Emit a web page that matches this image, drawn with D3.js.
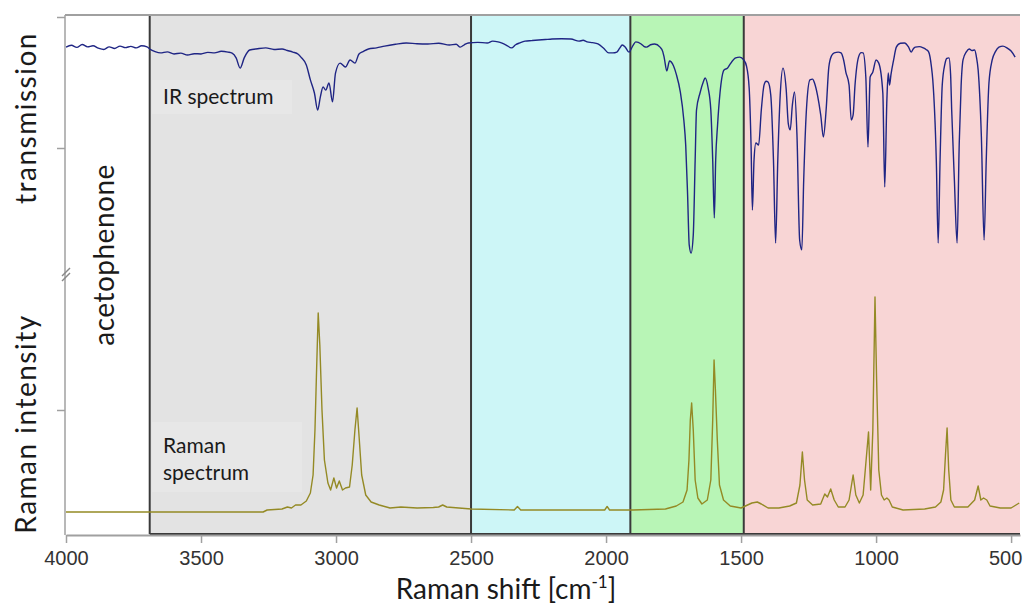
<!DOCTYPE html>
<html>
<head>
<meta charset="utf-8">
<script src="https://cdn.jsdelivr.net/npm/d3@7"></script>
<style>
  html, body { margin: 0; padding: 0; background: #fff; }
  svg { display: block; }
</style>
</head>
<body>
<svg id="chart" width="1026" height="605"></svg>
<script>
// Acetophenone: IR transmission (top) and Raman intensity (bottom) vs Raman shift.

// x-axis tick labels (cm-1)
const xTicks = [4000, 3500, 3000, 2500, 2000, 1500, 1000, 500];

// Spectral windows
const bandStarts = [3690, 2500, 1910, 1490];
const bandEnds   = [2500, 1910, 1490, 467];
const bandFills  = ["#e3e3e3", "#cdf6f7", "#b8f5b6", "#f8d5d5"];

// IR spectrum: [wavenumber (cm-1), transmission (%)]
const irSpectrum = [
  [4000,88.5],[3980,89.2],[3960,88.4],[3940,89.5],[3920,88.6],[3900,89.0],[3880,88.1],[3860,87.6],
  [3840,88.6],[3820,88.0],[3800,88.9],[3780,88.3],[3760,88.8],[3740,88.2],[3720,89.0],[3700,88.6],
  [3690,87.8],[3670,86.8],[3650,86.3],[3625,86.7],[3600,85.9],[3575,86.2],[3550,85.5],[3525,86.0],
  [3500,85.9],[3475,86.5],[3450,86.3],[3425,86.9],[3400,86.6],[3385,86.2],[3370,84.4],[3355,80.5],
  [3340,84.4],[3320,87.4],[3290,87.9],[3260,88.2],[3230,87.6],[3200,87.8],[3180,87.2],[3160,86.6],
  [3140,85.8],[3130,84.7],[3110,81.7],[3095,76.0],[3080,71.0],[3068,64.5],[3058,69.5],[3048,73.3],
  [3038,72.1],[3026,74.8],[3013,67.6],[3002,78.6],[2985,82.4],[2965,80.9],[2948,83.6],[2930,82.4],
  [2915,85.9],[2900,86.8],[2880,87.8],[2850,88.2],[2820,88.9],[2780,89.6],[2740,90.1],[2700,89.8],
  [2660,89.7],[2620,90.0],[2580,89.3],[2555,89.6],[2540,88.5],[2525,89.4],[2510,90.1],[2475,90.3],
  [2440,90.1],[2420,90.8],[2400,90.5],[2385,90.0],[2370,89.3],[2350,88.2],[2335,89.4],[2320,90.1],
  [2300,90.8],[2275,91.0],[2250,91.2],[2225,91.4],[2200,91.6],[2165,91.7],[2130,91.6],[2100,90.8],
  [2085,91.1],[2070,90.5],[2050,90.2],[2030,89.7],[2010,88.2],[1990,86.3],[1975,86.3],[1960,86.6],
  [1950,88.0],[1940,89.3],[1928,88.4],[1915,86.6],[1900,89.2],[1890,90.5],[1870,89.7],[1860,88.8],
  [1850,88.5],[1835,89.4],[1820,89.7],[1800,88.5],[1790,86.8],[1785,84.7],[1775,79.4],[1765,83.2],
  [1750,81.3],[1740,78.2],[1725,71.4],[1712,60.7],[1705,51.1],[1698,32.1],[1692,13.0],[1685,9.9],
  [1677,16.8],[1670,45.4],[1665,64.5],[1652,71.0],[1640,75.2],[1633,76.7],[1622,72.9],[1612,64.5],
  [1605,45.4],[1599,23.3],[1594,45.4],[1587,58.8],[1578,71.0],[1563,79.8],[1550,80.5],[1540,82.1],
  [1520,84.4],[1505,84.7],[1490,83.6],[1480,81.3],[1470,72.9],[1463,51.1],[1458,26.3],[1452,45.4],
  [1445,51.9],[1435,51.1],[1425,64.5],[1415,74.0],[1407,75.5],[1400,75.2],[1390,70.2],[1380,45.4],
  [1372,13.7],[1364,45.4],[1355,70.2],[1345,80.5],[1333,72.5],[1325,59.2],[1318,56.9],[1310,66.4],
  [1302,71.4],[1293,55.0],[1283,14.9],[1275,11.1],[1268,37.8],[1258,64.5],[1245,76.0],[1235,76.3],
  [1228,74.8],[1217,70.2],[1205,62.6],[1195,54.2],[1185,64.5],[1175,80.9],[1165,85.2],[1155,86.3],
  [1140,86.6],[1130,86.3],[1120,83.5],[1112,79.0],[1100,74.0],[1092,60.7],[1085,62.6],[1078,74.0],
  [1065,84.7],[1055,86.4],[1048,86.3],[1038,77.1],[1030,50.4],[1022,77.1],[1012,79.0],[1000,83.6],
  [990,82.4],[975,71.0],[968,35.1],[960,68.3],[955,78.6],[950,74.0],[945,77.9],[935,83.6],
  [925,88.5],[910,90.0],[895,90.1],[880,88.6],[870,86.6],[862,87.9],[855,88.5],[840,88.7],
  [825,88.2],[815,87.6],[805,86.6],[795,81.0],[790,76.0],[777,45.4],[770,13.7],[763,45.4],
  [755,74.0],[745,82.1],[738,84.2],[730,84.4],[724,78.0],[720,64.5],[710,37.8],[700,13.7],
  [692,51.9],[685,74.0],[678,83.6],[665,86.8],[655,87.8],[645,87.2],[635,87.4],[628,84.5],
  [622,79.8],[610,54.2],[600,14.9],[592,45.4],[582,74.8],[570,83.6],[558,86.8],[545,88.5],
  [530,88.9],[515,88.2],[500,87.0],[485,84.7]
];

// Raman spectrum: [Raman shift (cm-1), intensity (a.u.)]
const ramanSpectrum = [
  [4000,9.2],[3600,9.2],[3270,9.2],[3255,10.0],[3200,10.4],[3180,11.2],[3165,10.8],[3150,12.0],
  [3130,12.0],[3110,13.6],[3095,16.8],[3085,24.0],[3078,42.0],[3072,66.0],[3066,88.8],[3060,76.0],
  [3052,50.0],[3043,30.0],[3030,20.8],[3020,18.0],[3008,22.8],[2998,18.8],[2988,21.6],[2976,18.0],
  [2965,18.8],[2950,19.2],[2940,28.0],[2930,42.0],[2922,50.8],[2915,40.0],[2905,24.0],[2890,16.0],
  [2870,13.2],[2840,12.0],[2800,10.8],[2760,11.2],[2700,10.8],[2640,11.0],[2620,11.2],[2605,12.0],
  [2590,11.2],[2500,10.4],[2340,10.0],[2328,11.4],[2316,10.0],[2100,10.0],[2005,10.0],[1996,11.4],
  [1987,10.0],[1900,10.0],[1780,10.4],[1740,11.6],[1715,13.2],[1700,18.0],[1693,30.0],[1688,46.0],
  [1683,52.8],[1677,42.0],[1670,22.0],[1660,14.8],[1645,12.4],[1625,14.0],[1612,22.0],[1605,46.0],
  [1600,70.0],[1595,58.0],[1588,38.0],[1580,20.0],[1565,14.0],[1540,11.6],[1500,10.8],[1460,12.8],
  [1440,13.2],[1425,12.4],[1400,10.8],[1360,10.8],[1320,11.6],[1295,12.8],[1282,20.0],[1273,33.2],
  [1265,22.0],[1255,14.0],[1235,12.0],[1205,12.4],[1190,16.4],[1180,15.2],[1168,18.4],[1155,14.0],
  [1140,11.2],[1115,11.2],[1100,14.0],[1085,24.0],[1075,16.0],[1062,12.8],[1048,16.0],[1040,26.0],
  [1028,41.2],[1020,18.0],[1012,42.0],[1004,95.2],[998,62.0],[990,26.0],[980,16.0],[970,14.0],
  [960,14.8],[952,14.0],[940,11.2],[900,10.0],[820,10.4],[780,11.2],[760,13.2],[750,18.0],
  [743,32.0],[737,42.8],[731,26.0],[723,14.0],[710,11.2],[660,11.2],[635,14.0],[622,19.6],
  [612,14.0],[602,14.8],[590,14.0],[578,11.6],[540,10.8],[500,10.8],[470,12.8]
];

const svg = d3.select("#chart");
const plotLeft = 66, plotRight = 1020, plotTop = 16, plotBottom = 534;

const x = d3.scaleLinear().domain([4000, 467]).range([plotLeft, plotRight]);
const yIR = d3.scaleLinear().domain([0, 100]).range([279, 17]);
const yRaman = d3.scaleLinear().domain([0, 100]).range([535, 285]);

// Coloured spectral windows
const bands = bandStarts.map((s, i) => ({ s, e: bandEnds[i], fill: bandFills[i] }));
svg.append("g").selectAll("rect").data(bands).join("rect")
  .attr("x", d => x(d.s))
  .attr("y", plotTop)
  .attr("width", d => x(d.e) - x(d.s))
  .attr("height", plotBottom - plotTop)
  .attr("fill", d => d.fill);

// Label backdrops
svg.append("rect").attr("x", 152).attr("y", 80).attr("width", 140).attr("height", 34).attr("fill", "#e7e7e7");
svg.append("rect").attr("x", 152).attr("y", 422).attr("width", 150).attr("height", 70).attr("fill", "#e7e7e7");

// Window borders
svg.append("g").selectAll("line").data(bandStarts).join("line")
  .attr("x1", d => x(d)).attr("x2", d => x(d))
  .attr("y1", plotTop).attr("y2", plotBottom)
  .attr("stroke", "#3a3a3a").attr("stroke-width", 2);
svg.append("line")
  .attr("x1", x(3690)).attr("x2", plotRight)
  .attr("y1", plotBottom).attr("y2", plotBottom)
  .attr("stroke", "#3a3a3a").attr("stroke-width", 2);

// Top frame line
svg.append("line")
  .attr("x1", plotLeft - 1).attr("x2", plotRight)
  .attr("y1", 15).attr("y2", 15)
  .attr("stroke", "#a0a0a0").attr("stroke-width", 2);

// Spectra
svg.append("path")
  .datum(irSpectrum)
  .attr("fill", "none")
  .attr("stroke", "#1f2584")
  .attr("stroke-width", 1.4)
  .attr("stroke-linejoin", "round")
  .attr("d", d3.line().curve(d3.curveMonotoneX).x(d => x(d[0])).y(d => yIR(d[1])));

svg.append("path")
  .datum(ramanSpectrum)
  .attr("fill", "none")
  .attr("stroke", "#948a25")
  .attr("stroke-width", 1.4)
  .attr("stroke-linejoin", "round")
  .attr("d", d3.line().x(d => x(d[0])).y(d => yRaman(d[1])));

// Bottom axis
const xAxis = svg.append("g")
  .attr("transform", `translate(0,${plotBottom + 1})`)
  .call(d3.axisBottom(x).tickValues(xTicks).tickSize(8).tickSizeOuter(0).tickFormat(d3.format("d")));
xAxis.select(".domain").attr("stroke", "#a0a0a0").attr("stroke-width", 2);
xAxis.selectAll(".tick line").attr("stroke", "#a0a0a0").attr("stroke-width", 1.5);
xAxis.selectAll(".tick text")
  .attr("dy", "0.95em")
  .attr("fill", "#333")
  .style("font-family", "'Liberation Sans', Arial, sans-serif")
  .style("font-size", "20px");
// keep the last label inside the frame
xAxis.selectAll(".tick text").filter(d => d === 500).attr("dx", -6);

// Left axes (IR on top, Raman below)
const axisStyle = g => {
  g.select(".domain").remove();
  g.selectAll(".tick line").attr("stroke", "#a0a0a0").attr("stroke-width", 1.5);
};
svg.append("g").attr("transform", `translate(${plotLeft - 1},0)`)
  .call(d3.axisLeft(yIR).tickValues([100, 50]).tickSize(8).tickFormat(""))
  .call(axisStyle);
svg.append("g").attr("transform", `translate(${plotLeft - 1},0)`)
  .call(d3.axisLeft(yRaman).tickValues([50]).tickSize(8).tickFormat(""))
  .call(axisStyle);
svg.append("line")
  .attr("x1", plotLeft - 1).attr("x2", plotLeft - 1)
  .attr("y1", 15).attr("y2", plotBottom + 1)
  .attr("stroke", "#a0a0a0").attr("stroke-width", 1.5);

// Axis break mark
[270, 275].forEach(yy => {
  svg.append("line")
    .attr("x1", plotLeft - 4).attr("y1", yy + 6)
    .attr("x2", plotLeft + 4).attr("y2", yy - 2)
    .attr("stroke", "#888").attr("stroke-width", 1.5);
});

// Text
const font = "Lato, 'Open Sans', sans-serif";
const rotText = (txt, cx, cy, size, spacing) => svg.append("text")
  .attr("transform", `translate(${cx},${cy}) rotate(-90)`)
  .attr("text-anchor", "middle")
  .attr("fill", "#1a1a1a")
  .style("font-family", font)
  .style("font-size", size + "px")
  .style("letter-spacing", spacing + "px")
  .text(txt);

rotText("transmission", 36, 118, 28, 1.5);
rotText("Raman intensity", 36, 424, 28, 1.5);
rotText("acetophenone", 114, 255, 28, 0.5);

const label = (txt, lx, ly) => svg.append("text").attr("x", lx).attr("y", ly)
  .attr("fill", "#1a1a1a").style("font-family", font).style("font-size", "21px")
  .text(txt);
label("IR spectrum", 163, 104);
label("Raman", 163, 453);
label("spectrum", 163, 480);

const xl = svg.append("text").attr("x", 506).attr("y", 599)
  .attr("text-anchor", "middle")
  .attr("fill", "#1a1a1a").style("font-family", font).style("font-size", "28px");
xl.append("tspan").text("Raman shift [cm");
xl.append("tspan").attr("dy", -11).style("font-size", "17px").text("-1");
xl.append("tspan").attr("dy", 11).text("]");
</script>
</body>
</html>
